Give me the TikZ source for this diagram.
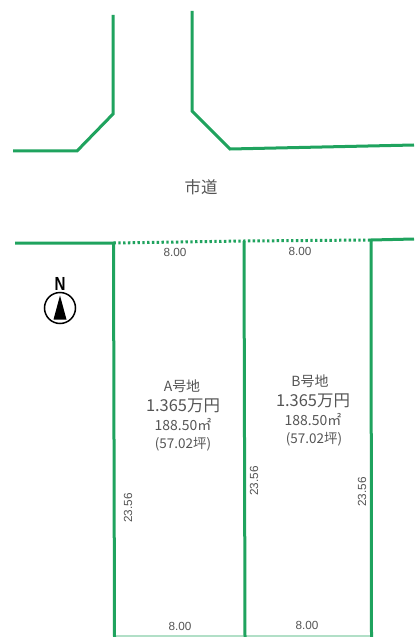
\documentclass[tikz,border=0pt]{standalone}
\usepackage{fontspec}
\setmainfont{Liberation Sans}
\newfontfamily\cjk{Noto Sans CJK JP}
\definecolor{lotgreen}{HTML}{1FA35E}
\definecolor{labelgray}{HTML}{555555}
\tikzset{
  x=1bp,y=-1bp,
  boundary/.style={draw=lotgreen,line width=3bp,line join=miter},
  frontage/.style={draw=lotgreen,line width=3bp,dash pattern=on 2.4bp off 2.4bp},
  hairline/.style={draw=lotgreen!35,line width=1.2bp},
  dimlabel/.style={text=labelgray,font=\fontsize{11.8}{11.8}\selectfont,inner sep=0pt},
  lotname/.style={text=labelgray,font=\cjk\fontsize{14}{14}\selectfont,inner sep=0pt},
  lotprice/.style={text=labelgray,font=\cjk\fontsize{16.5}{16.5}\selectfont,inner sep=0pt},
  lotarea/.style={text=labelgray,font=\cjk\fontsize{14}{14}\selectfont,inner sep=0pt},
  lottsubo/.style={text=labelgray,font=\cjk\fontsize{13.5}{13.5}\selectfont,inner sep=0pt},
}
\begin{document}
\begin{tikzpicture}
\useasboundingbox[fill=white] (0,0) rectangle (414,637);
% corners
\coordinate (tl1) at (13,151);
\coordinate (tl2) at (77,151);
\coordinate (tl3) at (113,114);
\coordinate (tl4) at (113,15);
\coordinate (tr1) at (192,11);
\coordinate (tr2) at (192,111);
\coordinate (tr3) at (230,149);
\coordinate (tr4) at (414,145);
\coordinate (a0) at (15,243);
\coordinate (a1) at (113.5,243);
\coordinate (a2) at (114.5,637);
\coordinate (m1) at (244,241);
\coordinate (m2) at (245,637);
\coordinate (r1) at (371,240);
\coordinate (r2) at (371.5,637);
\coordinate (r3) at (414,239);
\coordinate (h1) at (114.5,636);
\coordinate (h2) at (371.5,636);
\draw[hairline] (h1) -- (h2);
\draw[boundary] (tl1) -- (tl2) -- (tl3) -- (tl4);
\draw[boundary] (tr1) -- (tr2) -- (tr3) -- (tr4);
\draw[boundary] (a0) -- (a1) -- (a2);
\draw[boundary] (m1) -- (m2);
\draw[boundary] (r2) -- (r1) -- (r3);
\draw[frontage] (a1) -- (m1) -- (r1);
% labels
\node[text=labelgray,font=\cjk\fontsize{16.5}{16.5}\selectfont,inner sep=0pt] (road) at (201,187) {市道};
\node[dimlabel] (d1) at (175,252) {8.00};
\node[dimlabel] (d2) at (300,251.5) {8.00};
\node[dimlabel] (d3) at (180,626) {8.00};
\node[dimlabel] (d4) at (307,625) {8.00};
\node[dimlabel,rotate=90] (d5) at (128,508) {23.56};
\node[dimlabel,rotate=90] (d6) at (254,481) {23.56};
\node[dimlabel,rotate=90] (d7) at (362,492) {23.56};
\node[lotname] (an) at (182,386) {A号地};
\node[lotprice] (ap) at (183,406) {1.365万円};
\node[lotarea] (aa) at (183,425) {188.50㎡};
\node[lottsubo] (at) at (183,444) {(57.02坪)};
\node[lotname] (bn) at (310,381) {B号地};
\node[lotprice] (bp) at (313,401) {1.365万円};
\node[lotarea] (ba) at (313,420) {188.50㎡};
\node[lottsubo] (bt) at (314,439) {(57.02坪)};
% north mark
\node[font=\bfseries\fontsize{19}{19}\selectfont,inner sep=0pt,xscale=.8] (north) at (60,284) {N};
\draw[black,line width=1.5bp] (60,308) circle (15.5);
\fill[black] (60,295.5) -- (66.5,319.5) -- (53.5,319.5) -- cycle;
\end{tikzpicture}
\end{document}
